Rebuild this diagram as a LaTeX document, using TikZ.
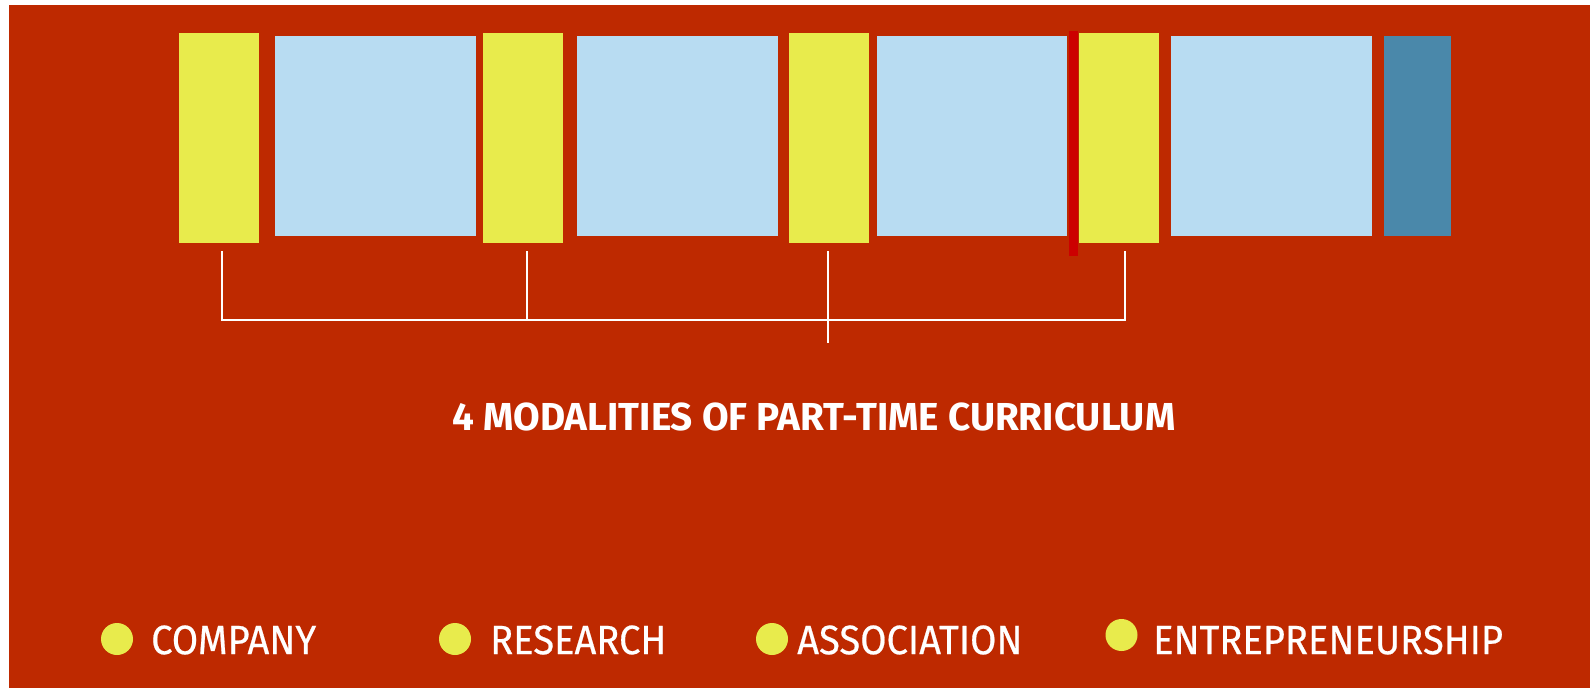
\documentclass[tikz,border=0pt]{standalone}
\usepackage{fontspec}
\setmainfont{Fira Sans}
\newfontfamily\legfont{Fira Sans}[FakeStretch=0.93, FakeBold=0.5]
\newfontfamily\ttlfont{Fira Sans}[FakeStretch=0.99]
\definecolor{bgred}{RGB}{190,41,0}
\definecolor{ylw}{RGB}{232,235,76}
\definecolor{lblue}{RGB}{184,220,242}
\definecolor{dblue}{RGB}{74,136,170}
\definecolor{barred}{RGB}{204,0,0}
\tikzset{
  ybox/.style={fill=ylw, draw=none, minimum width=80pt, minimum height=210pt, inner sep=0pt},
  bbox/.style={fill=lblue, draw=none, minimum height=200pt, inner sep=0pt},
  bracket/.style={draw=white, line width=2.2pt},
  dotm/.style={circle, fill=ylw, minimum size=32pt, inner sep=0pt},
  legtxt/.style={text=white, anchor=west, inner sep=0pt, font=\legfont\fontsize{41}{44}\selectfont},
  ttl/.style={text=white, inner sep=0pt, font=\ttlfont\fontsize{39}{41}\selectfont\bfseries}
}
\begin{document}
\begin{tikzpicture}[x=1pt,y=-1pt]
\useasboundingbox (0,0) rectangle (1590,688);
\fill[white] (0,0) rectangle (1590,688);
\fill[bgred] (9,5) rectangle (1590,688);
% boxes
\node[ybox] (y1) at (218.5,137.5) {};
\node[bbox, minimum width=201pt] (b1) at (275.2,136.4) [anchor=west] {};
\node[ybox] (y2) at (522.7,137.5) {};
\node[bbox, minimum width=201pt] (b2) at (577,136.4) [anchor=west] {};
\node[ybox] (y3) at (829,137.5) {};
\node[bbox, minimum width=190pt] (b3) at (877,136.4) [anchor=west] {};
\node[fill=barred, draw=none, minimum width=9pt, minimum height=225pt, inner sep=0pt] (rb) at (1073.5,143) {};
\node[ybox] (y4) at (1119,137.5) {};
\node[bbox, minimum width=201pt] (b4) at (1171,136.4) [anchor=west] {};
\node[fill=dblue, draw=none, minimum width=67pt, minimum height=200pt, inner sep=0pt, anchor=west] (b5) at (1384,136.4) {};
% bracket
\coordinate (t1) at (222,251);
\coordinate (t2) at (527,251);
\coordinate (t3) at (828,251);
\coordinate (t4) at (1125,251);
\coordinate (h1) at (222,320);
\coordinate (h2) at (527,320);
\coordinate (h4) at (1125,320);
\coordinate (c3) at (828,343);
\draw[bracket] (t1) -- (h1) -- (h4) -- (t4);
\draw[bracket] (t2) -- (h2);
\draw[bracket] (t3) -- (c3);
% title
\node[ttl] (title) at (814,417) {4 MODALITIES OF PART-TIME CURRICULUM};
% legend
\node[dotm] (d1) at (117,639) {};
\node[legtxt] (l1) at (151,640) {COMPANY};
\node[dotm] (d2) at (455,639) {};
\node[legtxt] (l2) at (490,640) {RESEARCH};
\node[dotm] (d3) at (772,639) {};
\node[legtxt] (l3) at (797,640) {ASSOCIATION};
\node[dotm] (d4) at (1121.5,635) {};
\node[legtxt] (l4) at (1153,640) {ENTREPRENEURSHIP};
\end{tikzpicture}
\end{document}
